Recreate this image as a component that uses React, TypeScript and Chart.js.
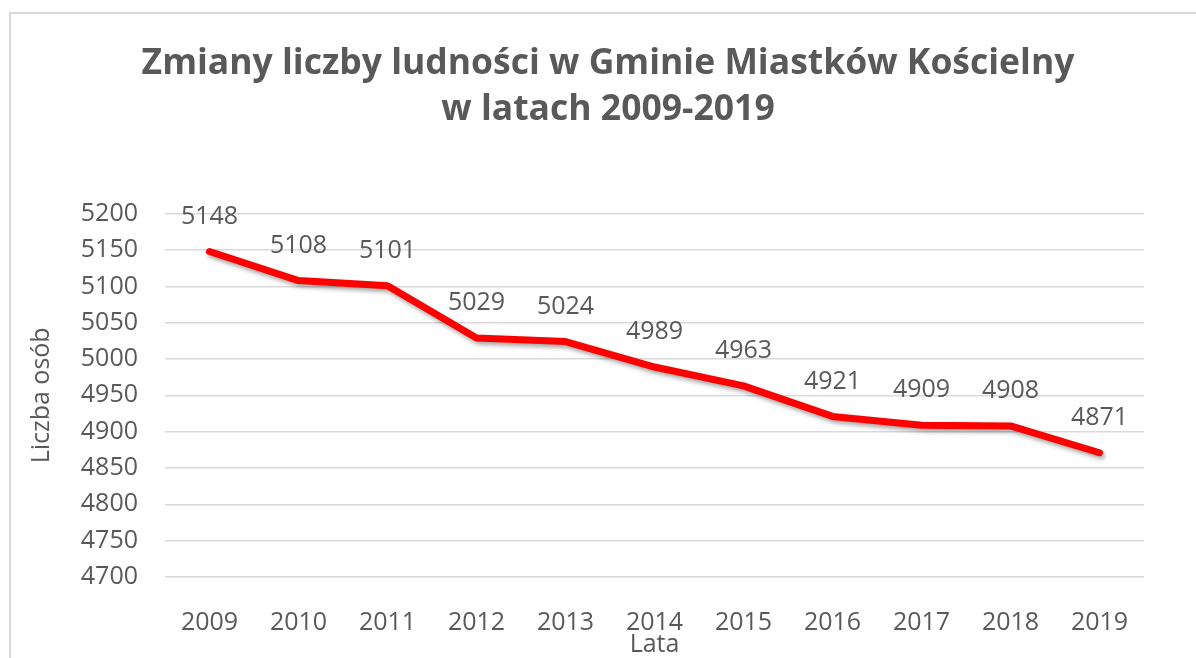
import React, { useEffect, useRef } from "react";
import { Chart, registerables } from "chart.js";

Chart.register(...registerables);

const years = ["2009", "2010", "2011", "2012", "2013", "2014", "2015", "2016", "2017", "2018", "2019"];
const population = [5148, 5108, 5101, 5029, 5024, 4989, 4963, 4921, 4909, 4908, 4871];
const titleLines = ["Zmiany liczby ludności w Gminie Miastków Kościelny", "w latach 2009-2019"];
const yAxisTitle = "Liczba osób";
const xAxisTitle = "Lata";
const yMin = 4700;
const yMax = 5200;
const yStep = 50;

const TEXT = "#595959";
const FONT = "'Open Sans', 'Noto Sans', sans-serif";

const framePlugin = {
  id: "frame",
  beforeDraw(chart: any) {
    const ctx = chart.ctx;
    ctx.save();
    ctx.fillStyle = "#ffffff";
    ctx.fillRect(0, 0, chart.width, chart.height);
    ctx.strokeStyle = "#d9d9d9";
    ctx.lineWidth = 2;
    ctx.beginPath();
    ctx.moveTo(10, chart.height + 5);
    ctx.lineTo(10, 13);
    ctx.lineTo(chart.width + 5, 13);
    ctx.stroke();
    ctx.restore();
  },
};

const shadowPlugin = {
  id: "lineShadow",
  beforeDatasetDraw(chart: any) {
    const ctx = chart.ctx;
    ctx.save();
    ctx.shadowColor = "rgba(0,0,0,0.35)";
    ctx.shadowBlur = 4;
    ctx.shadowOffsetX = 2;
    ctx.shadowOffsetY = 3;
  },
  afterDatasetDraw(chart: any) {
    chart.ctx.restore();
  },
};

const labelPlugin = {
  id: "valueLabels",
  afterDatasetsDraw(chart: any) {
    const ctx = chart.ctx;
    const meta = chart.getDatasetMeta(0);
    const data = chart.data.datasets[0].data;
    ctx.save();
    ctx.fillStyle = TEXT;
    ctx.font = `25px ${FONT}`;
    ctx.textAlign = "center";
    ctx.textBaseline = "middle";
    meta.data.forEach((pt: any, i: number) => {
      ctx.fillText(String(data[i]), pt.x, pt.y - 35);
    });
    ctx.restore();
  },
};

export default function App() {
  const canvasRef = useRef<HTMLCanvasElement | null>(null);

  useEffect(() => {
    document.body.style.margin = "0";
    const canvas = canvasRef.current;
    if (!canvas) return;
    const chart = new Chart(canvas, {
      type: "line",
      data: {
        labels: years,
        datasets: [
          {
            data: population,
            borderColor: "#ff0000",
            backgroundColor: "#ff0000",
            borderWidth: 7,
            pointRadius: 0,
            pointHoverRadius: 0,
            tension: 0,
            borderJoinStyle: "round",
            borderCapStyle: "round",
            fill: false,
            yAxisID: "y",
          },
        ],
      },
      options: {
        animation: false,
        responsive: false,
        maintainAspectRatio: false,
        layout: { padding: { left: 20, right: 0, top: 40, bottom: 0 } },
        plugins: {
          legend: { display: false },
          tooltip: { enabled: false },
          title: {
            display: true,
            text: titleLines,
            color: TEXT,
            font: { family: FONT, size: 35.5, weight: "bold", lineHeight: 1.32 },
            padding: { top: 0, bottom: 80 },
          },
        },
        scales: {
          x: {
            offset: true,
            grid: { display: false, drawTicks: false },
            border: { display: false },
            ticks: { color: TEXT, font: { family: FONT, size: 25 }, padding: 31, maxRotation: 0 },
            title: {
              display: true,
              text: xAxisTitle,
              color: TEXT,
              font: { family: FONT, size: 25, lineHeight: 1.05 },
              padding: { top: 0, bottom: 0 },
            },
            afterFit(scale: any) {
              scale.height = 81;
            },
          },
          y: {
            min: yMin,
            max: yMax,
            grid: { color: "#d9d9d9", lineWidth: 1.5, drawTicks: false },
            border: { display: false },
            ticks: {
              stepSize: yStep,
              color: TEXT,
              font: { family: FONT, size: 25 },
              padding: 27,
              callback: (v: any) => String(v),
            },
            title: {
              display: true,
              text: yAxisTitle,
              color: TEXT,
              font: { family: FONT, size: 25, lineHeight: 1.2 },
              padding: { top: 7, bottom: 0 },
            },
            afterFit(scale: any) {
              scale.width = 145;
            },
          },
          yRight: {
            position: "right",
            min: yMin,
            max: yMax,
            grid: { display: false, drawTicks: false },
            border: { display: false },
            ticks: { display: false },
            afterFit(scale: any) {
              scale.width = 52;
            },
          },
        },
      },
      plugins: [framePlugin, shadowPlugin, labelPlugin],
    });
    return () => chart.destroy();
  }, []);

  return (
    <div style={{ position: "absolute", left: 0, top: 0, width: 1196, height: 658 }}>
      <canvas ref={canvasRef} width={1196} height={658} style={{ display: "block", width: 1196, height: 658 }} />
    </div>
  );
}
